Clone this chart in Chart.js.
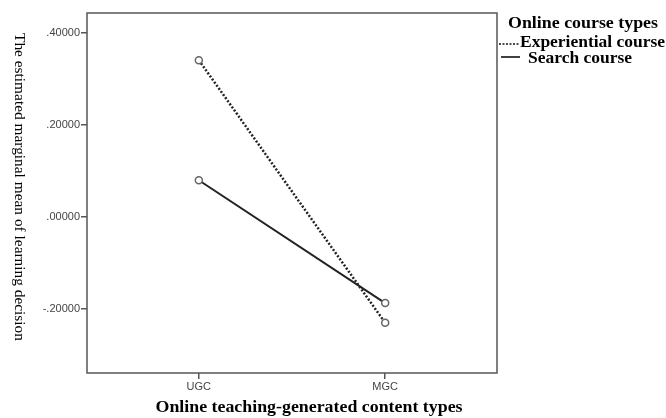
<!DOCTYPE html>
<html>
<head>
<meta charset="utf-8">
<script src="https://cdn.jsdelivr.net/npm/chart.js@4/dist/chart.umd.min.js"></script>
<style>
  html, body { margin: 0; padding: 0; background: #fff; }
  #wrap { width: 666px; height: 418px; }
</style>
</head>
<body>
<div id="wrap"><canvas id="grafica"></canvas></div>
<script>
const categories = ["UGC", "MGC"];
const experiential = [0.341, -0.23];
const search = [0.08, -0.187];
const yTicks = [-0.2, 0, 0.2, 0.4];
const legendTitle = "Online course types";
const xTitle = "Online teaching-generated content types";
const yTitle = "The estimated marginal mean of learning decision";

const SERIF = "'Liberation Serif', 'Times New Roman', serif";

function fmt(v) {
  const s = Math.abs(v).toFixed(5).replace(/^0/, "");
  return (v < -1e-9 ? "-" : "") + s;
}

// texto estirado al ancho que tiene en la imagen
function fitText(ctx, text, x, y, width, align) {
  const w = ctx.measureText(text).width;
  const k = width / w;
  ctx.save();
  ctx.translate(x, y);
  ctx.scale(k, 1);
  ctx.textAlign = align || "left";
  ctx.fillText(text, 0, 0);
  ctx.restore();
}

const frameAndLegend = {
  id: "frameAndLegend",
  afterDraw(chart) {
    const { ctx, chartArea: a } = chart;
    ctx.save();
    ctx.strokeStyle = "#555";
    ctx.lineWidth = 1.5;
    ctx.strokeRect(a.left, a.top, a.right - a.left, a.bottom - a.top);

    ctx.fillStyle = "#000";
    ctx.textBaseline = "middle";

    // titulos de ejes
    ctx.font = "bold 16px " + SERIF;
    fitText(ctx, xTitle, 309, 408, 307, "center");

    ctx.save();
    ctx.translate(19, 187);
    ctx.rotate(Math.PI / 2);
    ctx.font = "15.5px " + SERIF;
    fitText(ctx, yTitle, 0, 0, 308, "center");
    ctx.restore();

    // leyenda
    ctx.font = "bold 16px " + SERIF;
    fitText(ctx, legendTitle, 508, 24, 150);

    const rows = [
      { y: 43, ly: 44, x0: 499, x1: 520, tx: 520, w: 145 },
      { y: 59, ly: 57, x0: 501, x1: 520, tx: 528, w: 104 },
    ];
    chart.data.datasets.forEach((ds, i) => {
      const r = rows[i];
      ctx.beginPath();
      ctx.setLineDash(ds.borderDash ? [2, 1.5] : []);
      ctx.lineWidth = 1.6;
      ctx.strokeStyle = "#111";
      ctx.moveTo(r.x0, r.ly);
      ctx.lineTo(r.x1, r.ly);
      ctx.stroke();
      ctx.setLineDash([]);
      fitText(ctx, ds.label, r.tx, r.y, r.w);
    });
    ctx.restore();
  },
};

new Chart(document.getElementById("grafica"), {
  type: "line",
  data: {
    datasets: [
      {
        label: "Experiential course",
        data: experiential.map((v, i) => ({ x: i, y: v })),
        borderColor: "#222",
        borderWidth: 2.5,
        borderDash: [2, 1.8],
        pointRadius: 3.5,
        pointBorderWidth: 1.5,
        pointBorderColor: "#666",
        pointBackgroundColor: "#fff",
      },
      {
        label: "Search course",
        data: search.map((v, i) => ({ x: i, y: v })),
        borderColor: "#222",
        borderWidth: 2,
        pointRadius: 3.5,
        pointBorderWidth: 1.5,
        pointBorderColor: "#666",
        pointBackgroundColor: "#fff",
      },
    ],
  },
  options: {
    responsive: true,
    maintainAspectRatio: false,
    animation: false,
    layout: { padding: { left: 0, right: 169, top: 13, bottom: 0 } },
    plugins: { legend: { display: false }, tooltip: { enabled: false } },
    scales: {
      x: {
        type: "linear",
        min: -0.6,
        max: 1.6,
        afterBuildTicks: (s) => { s.ticks = categories.map((c, i) => ({ value: i })); },
        afterFit: (s) => { s.height = 45; },
        ticks: {
          callback: (v) => categories[v],
          color: "#444",
          font: { family: "'Liberation Sans', Arial, sans-serif", size: 11 },
          padding: 1,
          maxRotation: 0,
        },
        grid: { drawOnChartArea: false, tickLength: 6, color: "#555", lineWidth: 1.5 },
        border: { display: false },
      },
      y: {
        min: -0.339,
        max: 0.4435,
        afterBuildTicks: (s) => { s.ticks = yTicks.map((v) => ({ value: v })); },
        afterFit: (s) => { s.width = 87; },
        ticks: {
          callback: (v) => fmt(v),
          color: "#444",
          font: { family: "'Liberation Sans', Arial, sans-serif", size: 11 },
          padding: 1,
        },
        grid: { drawOnChartArea: false, tickLength: 6, color: "#555", lineWidth: 1.5 },
        border: { display: false },
      },
    },
  },
  plugins: [frameAndLegend],
});
</script>
</body>
</html>
